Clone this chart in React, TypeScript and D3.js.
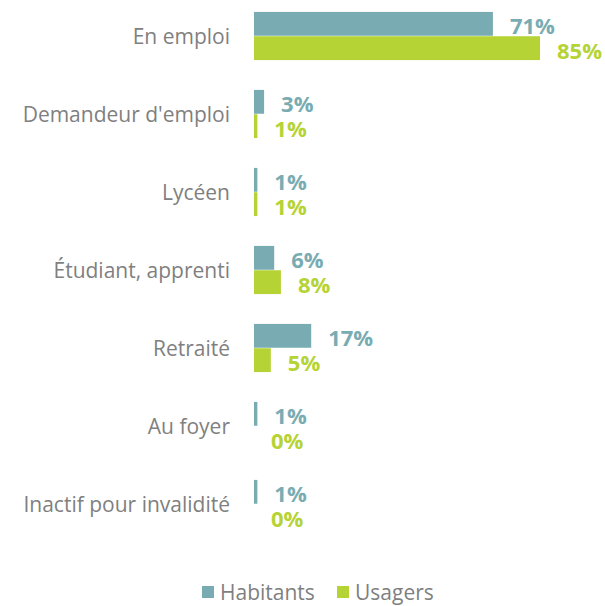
import { useEffect, useRef } from 'react';
import * as d3 from 'd3';

const categories = [
  'En emploi',
  "Demandeur d'emploi",
  'Lycéen',
  'Étudiant, apprenti',
  'Retraité',
  'Au foyer',
  'Inactif pour invalidité',
];
const seriesNames = ['Habitants', 'Usagers'];
const habitants = [71, 3, 1, 6, 17, 1, 1];
const usagers = [85, 1, 1, 8, 5, 0, 0];
const colors = ['#79acb2', '#b5d334'];

export default function App() {
  const ref = useRef<SVGSVGElement>(null);

  useEffect(() => {
    const svg = d3.select(ref.current);
    svg.selectAll('*').remove();

    const font = '"Open Sans", sans-serif';
    const values = [habitants, usagers];

    const x = d3.scaleLinear().domain([0, 100]).range([254, 590.5]);
    const y = d3.scaleBand<string>()
      .domain(categories)
      .range([-3, 543])
      .paddingInner(0.37)
      .paddingOuter(0.185);
    const sub = d3.scaleBand<string>()
      .domain(seriesNames)
      .range([0, y.bandwidth()])
      .padding(0.02);

    // category labels
    svg.append('g')
      .selectAll('text')
      .data(categories)
      .enter()
      .append('text')
      .attr('x', 230)
      .attr('y', d => (y(d) as number) + y.bandwidth() / 2)
      .attr('text-anchor', 'end')
      .attr('dominant-baseline', 'central')
      .style('font-family', font)
      .style('font-size', '21px')
      .style('fill', '#7f7f7f')
      .text(d => d);

    seriesNames.forEach((s, si) => {
      const data = categories.map((c, i) => ({ c, v: values[si][i] }));
      const g = svg.append('g');
      g.selectAll('rect')
        .data(data)
        .enter()
        .append('rect')
        .attr('x', x(0))
        .attr('y', d => (y(d.c) as number) + (sub(s) as number))
        .attr('width', d => x(d.v) - x(0))
        .attr('height', sub.bandwidth())
        .attr('fill', colors[si]);

      g.selectAll('text')
        .data(data)
        .enter()
        .append('text')
        .attr('x', d => x(d.v) + 17)
        .attr('y', d => (y(d.c) as number) + (sub(s) as number) + sub.bandwidth() / 2 + 1.5)
        .attr('dominant-baseline', 'central')
        .style('font-family', font)
        .style('font-size', '22px')
        .style('font-weight', 'bold')
        .style('fill', colors[si])
        .text(d => d.v + '%');
    });

    // legend
    const legendX = [202, 337];
    const legend = svg.append('g');
    seriesNames.forEach((s, i) => {
      legend.append('rect')
        .attr('x', legendX[i])
        .attr('y', 586)
        .attr('width', 12)
        .attr('height', 12)
        .attr('fill', colors[i]);
      legend.append('text')
        .attr('x', legendX[i] + 18)
        .attr('y', 592)
        .attr('dominant-baseline', 'central')
        .style('font-family', font)
        .style('font-size', '21px')
        .style('fill', '#7f7f7f')
        .text(s);
    });
  }, []);

  return (
    <svg
      ref={ref}
      width={605}
      height={606}
      style={{ position: 'absolute', left: 0, top: 0, background: '#fff' }}
    />
  );
}
